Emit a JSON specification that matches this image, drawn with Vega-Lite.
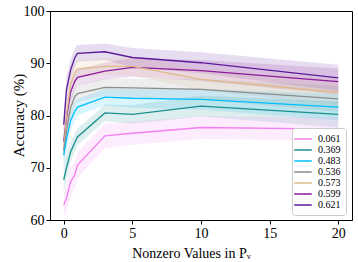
{
  "$schema": "https://vega.github.io/schema/vega-lite/v6.json",
  "width": 302,
  "height": 209,
  "autosize": "none",
  "padding": {"left": 50, "top": 11, "right": 6, "bottom": 42},
  "config": {
    "font": "Liberation Serif",
    "view": {"stroke": "black", "strokeWidth": 1},
    "axis": {
      "domainColor": "black",
      "tickColor": "black",
      "labelColor": "black",
      "titleColor": "black",
      "labelFont": "Liberation Serif",
      "titleFont": "Liberation Serif",
      "labelFontSize": 14,
      "titleFontSize": 15,
      "titleFontWeight": "normal",
      "tickSize": 4,
      "labelPadding": 2,
      "grid": false
    }
  },
  "data": {
    "values": [
      {"s": "0.621", "x": 0, "y": 78.2, "lo": 75.7, "hi": 80.7},
      {"s": "0.621", "x": 0.2, "y": 84.9, "lo": 82.4, "hi": 87.4},
      {"s": "0.621", "x": 0.5, "y": 88.7, "lo": 86.7, "hi": 90.7},
      {"s": "0.621", "x": 0.8, "y": 91.0, "lo": 89.2, "hi": 92.8},
      {"s": "0.621", "x": 1, "y": 91.9, "lo": 90.3, "hi": 93.5},
      {"s": "0.621", "x": 3, "y": 92.2, "lo": 90.6, "hi": 93.8},
      {"s": "0.621", "x": 5, "y": 91.1, "lo": 89.3, "hi": 92.9},
      {"s": "0.621", "x": 10, "y": 90.1, "lo": 88.1, "hi": 92.1},
      {"s": "0.621", "x": 20, "y": 87.2, "lo": 84.7, "hi": 89.7},
      {"s": "0.599", "x": 0, "y": 75.0, "lo": 72.5, "hi": 77.5},
      {"s": "0.599", "x": 0.2, "y": 79.5, "lo": 77.0, "hi": 82.0},
      {"s": "0.599", "x": 0.5, "y": 84.5, "lo": 82.5, "hi": 86.5},
      {"s": "0.599", "x": 0.8, "y": 86.5, "lo": 84.7, "hi": 88.3},
      {"s": "0.599", "x": 1, "y": 87.3, "lo": 85.7, "hi": 88.9},
      {"s": "0.599", "x": 3, "y": 88.5, "lo": 86.9, "hi": 90.1},
      {"s": "0.599", "x": 5, "y": 89.2, "lo": 87.4, "hi": 91.0},
      {"s": "0.599", "x": 10, "y": 88.6, "lo": 86.6, "hi": 90.6},
      {"s": "0.599", "x": 20, "y": 86.5, "lo": 84.0, "hi": 89.0},
      {"s": "0.573", "x": 0, "y": 73.5, "lo": 71.0, "hi": 76.0},
      {"s": "0.573", "x": 0.2, "y": 80.0, "lo": 77.5, "hi": 82.5},
      {"s": "0.573", "x": 0.5, "y": 86.0, "lo": 84.0, "hi": 88.0},
      {"s": "0.573", "x": 0.8, "y": 88.2, "lo": 86.4, "hi": 90.0},
      {"s": "0.573", "x": 1, "y": 88.9, "lo": 87.3, "hi": 90.5},
      {"s": "0.573", "x": 3, "y": 89.4, "lo": 87.8, "hi": 91.0},
      {"s": "0.573", "x": 5, "y": 89.4, "lo": 87.6, "hi": 91.2},
      {"s": "0.573", "x": 10, "y": 86.9, "lo": 84.9, "hi": 88.9},
      {"s": "0.573", "x": 20, "y": 84.4, "lo": 81.9, "hi": 86.9},
      {"s": "0.536", "x": 0, "y": 73.2, "lo": 70.7, "hi": 75.7},
      {"s": "0.536", "x": 0.2, "y": 77.0, "lo": 74.5, "hi": 79.5},
      {"s": "0.536", "x": 0.5, "y": 81.5, "lo": 79.5, "hi": 83.5},
      {"s": "0.536", "x": 0.8, "y": 83.6, "lo": 81.8, "hi": 85.4},
      {"s": "0.536", "x": 1, "y": 84.2, "lo": 82.6, "hi": 85.8},
      {"s": "0.536", "x": 3, "y": 85.4, "lo": 83.8, "hi": 87.0},
      {"s": "0.536", "x": 5, "y": 85.3, "lo": 83.5, "hi": 87.1},
      {"s": "0.536", "x": 10, "y": 85.0, "lo": 83.0, "hi": 87.0},
      {"s": "0.536", "x": 20, "y": 83.2, "lo": 80.7, "hi": 85.7},
      {"s": "0.483", "x": 0, "y": 72.4, "lo": 69.9, "hi": 74.9},
      {"s": "0.483", "x": 0.2, "y": 75.5, "lo": 73.0, "hi": 78.0},
      {"s": "0.483", "x": 0.5, "y": 79.0, "lo": 77.0, "hi": 81.0},
      {"s": "0.483", "x": 0.8, "y": 80.8, "lo": 79.0, "hi": 82.6},
      {"s": "0.483", "x": 1, "y": 81.6, "lo": 80.0, "hi": 83.2},
      {"s": "0.483", "x": 3, "y": 83.5, "lo": 81.9, "hi": 85.1},
      {"s": "0.483", "x": 5, "y": 83.3, "lo": 81.5, "hi": 85.1},
      {"s": "0.483", "x": 10, "y": 83.1, "lo": 81.1, "hi": 85.1},
      {"s": "0.483", "x": 20, "y": 81.6, "lo": 79.1, "hi": 84.1},
      {"s": "0.369", "x": 0, "y": 67.7, "lo": 65.2, "hi": 70.2},
      {"s": "0.369", "x": 0.2, "y": 70.0, "lo": 67.5, "hi": 72.5},
      {"s": "0.369", "x": 0.5, "y": 73.0, "lo": 71.0, "hi": 75.0},
      {"s": "0.369", "x": 0.8, "y": 74.8, "lo": 73.0, "hi": 76.6},
      {"s": "0.369", "x": 1, "y": 75.9, "lo": 74.3, "hi": 77.5},
      {"s": "0.369", "x": 3, "y": 80.5, "lo": 78.9, "hi": 82.1},
      {"s": "0.369", "x": 5, "y": 80.2, "lo": 78.4, "hi": 82.0},
      {"s": "0.369", "x": 10, "y": 81.8, "lo": 79.8, "hi": 83.8},
      {"s": "0.369", "x": 20, "y": 80.2, "lo": 77.7, "hi": 82.7},
      {"s": "0.061", "x": 0, "y": 62.8, "lo": 60.5, "hi": 65.1},
      {"s": "0.061", "x": 0.2, "y": 64.2, "lo": 61.4, "hi": 67.0},
      {"s": "0.061", "x": 0.5, "y": 67.3, "lo": 64.5, "hi": 70.1},
      {"s": "0.061", "x": 0.8, "y": 68.6, "lo": 66.0, "hi": 71.2},
      {"s": "0.061", "x": 1, "y": 70.5, "lo": 68.0, "hi": 73.0},
      {"s": "0.061", "x": 3, "y": 76.1, "lo": 73.8, "hi": 78.4},
      {"s": "0.061", "x": 5, "y": 76.6, "lo": 74.4, "hi": 78.8},
      {"s": "0.061", "x": 10, "y": 77.7, "lo": 75.5, "hi": 79.9},
      {"s": "0.061", "x": 20, "y": 77.4, "lo": 75.2, "hi": 79.6}
    ]
  },
  "layer": [
    {
      "mark": {"type": "area", "opacity": 0.15},
      "encoding": {
        "x": {"field": "x", "type": "quantitative"},
        "y": {"field": "lo", "type": "quantitative"},
        "y2": {"field": "hi"},
        "color": {
          "field": "s", "type": "nominal",
          "scale": {
            "domain": ["0.061", "0.369", "0.483", "0.536", "0.573", "0.599", "0.621"],
            "range": ["#f47ff0", "#1a8f8f", "#00bfff", "#8c8c8c", "#deb887", "#8b1a9b", "#5c1a99"]
          }
        }
      }
    },
    {
      "mark": {"type": "line", "strokeWidth": 1.3},
      "encoding": {
        "x": {
          "field": "x", "type": "quantitative",
          "scale": {"domain": [-1, 21], "nice": false, "zero": false},
          "axis": {"values": [0, 5, 10, 15, 20], "title": "Nonzero Values in Pᵥ", "titleFontSize": 14, "titleX": 141, "titleY": 26}
        },
        "y": {
          "field": "y", "type": "quantitative",
          "scale": {"domain": [60, 100], "nice": false, "zero": false},
          "axis": {"values": [60, 70, 80, 90, 100], "title": "Accuracy (%)", "titleX": -24, "titleY": 104}
        },
        "color": {
          "field": "s", "type": "nominal",
          "scale": {
            "domain": ["0.061", "0.369", "0.483", "0.536", "0.573", "0.599", "0.621"],
            "range": ["#f47ff0", "#1a8f8f", "#00bfff", "#8c8c8c", "#deb887", "#8b1a9b", "#5c1a99"]
          },
          "legend": {
            "title": null,
            "orient": "none",
            "legendX": 242,
            "legendY": 117,
            "symbolType": "M-1.75,0H1.75",
            "symbolSize": 100,
            "symbolStrokeWidth": 1.5,
            "labelFont": "Liberation Serif",
            "labelFontSize": 10,
            "labelColor": "black",
            "labelOffset": 9,
            "rowPadding": 0,
            "padding": 5,
            "strokeColor": "#cccccc",
            "fillColor": "white",
            "cornerRadius": 3,
            "encode": {
              "symbols": {
                "update": {
                  "stroke": {"scale": "color", "field": "value"},
                  "fill": {"value": "transparent"},
                  "opacity": {"value": 1},
                  "fillOpacity": {"value": 0},
                  "strokeOpacity": {"value": 1},
                  "strokeWidth": {"value": 1.5}
                }
              }
            }
          }
        }
      }
    }
  ]
}
